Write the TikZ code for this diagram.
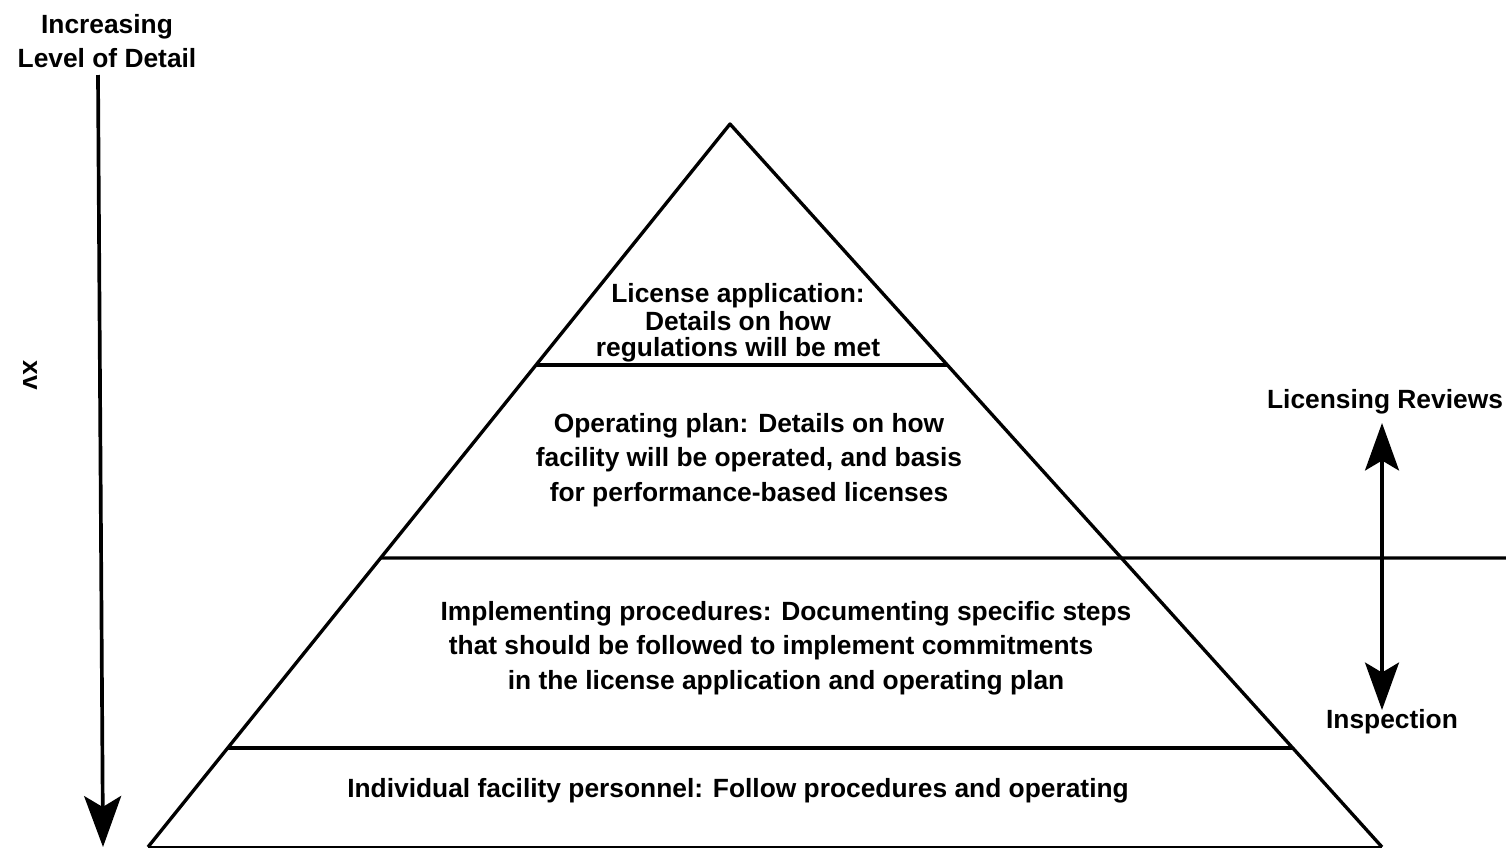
\documentclass[tikz,border=0pt]{standalone}
\usepackage{fontspec}
\setmainfont{Liberation Sans}
\usetikzlibrary{arrows.meta,calc}
\tikzset{
  txt/.style={font=\bfseries\fontsize{15}{19.5}\selectfont, align=center, inner sep=0pt},
  edge line/.style={line width=1.9pt},
  bigtip/.tip={Stealth[length=1.02cm, width=0.74cm, inset=0.22cm]},
  midtip/.tip={Stealth[length=0.95cm, width=0.68cm, inset=0.2cm]}
}
\begin{document}
\begin{tikzpicture}[x=0.02cm, y=-0.02cm]
  \useasboundingbox (0,0) rectangle (1506,849);

  % pyramid corners
  \coordinate (apex) at (730,124);
  \coordinate (bl) at (148,847);
  \coordinate (br) at (1382,847);
  \coordinate (rim) at (1506,558);

  % layer boundaries on both sides
  \coordinate (l1) at ($(apex)!0.3333!(bl)$);
  \coordinate (r1) at ($(apex)!0.3333!(br)$);
  \coordinate (l2) at ($(apex)!0.6003!(bl)$);
  \coordinate (r2) at ($(apex)!0.6003!(br)$);
  \coordinate (l3) at ($(apex)!0.8630!(bl)$);
  \coordinate (r3) at ($(apex)!0.8630!(br)$);

  \draw[edge line, line join=round] (bl) -- (apex) -- (br);
  \draw[line width=1.1pt] (bl) -- (br);
  \draw[edge line] (l1) -- (r1);
  \draw[edge line] (l2) -- (rim);
  \draw[edge line] (l3) -- (r3);

  % layer texts
  \node[txt] (lic) at (738,323) {License application:\\[-3.5pt] Details on how\\[-4.5pt] regulations will be met};
  \node[txt] (ops) at (749,460) {Operating plan: Details on how\\ facility will be operated, and basis\\ for performance-based licenses};
  \node[txt] (impl) at (786,648) {Implementing procedures: Documenting specific steps\\ that should be followed to implement commitments\rule{0.6cm}{0pt}\\ in the license application and operating plan};
  \node[txt] (pers) at (738,791) {Individual facility personnel: Follow procedures and operating};

  % level of detail
  \node[txt] (detail) at (107,41) {Increasing\\ Level of Detail};
  \coordinate (dtop) at (98,75);
  \coordinate (dtip) at (103,847);
  \draw[line width=2.1pt, -bigtip] (dtop) -- (dtip);
  \node[txt, rotate=-90] (page) at (30,375) {xv};

  % reviews and inspection
  \node[txt] (rev) at (1385,402) {Licensing Reviews};
  \node[txt] (insp) at (1392,722) {Inspection};
  \coordinate (revtip) at (1382,423);
  \coordinate (insptip) at (1382,710);
  \draw[line width=1.9pt, midtip-midtip] (revtip) -- (insptip);
\end{tikzpicture}
\end{document}
